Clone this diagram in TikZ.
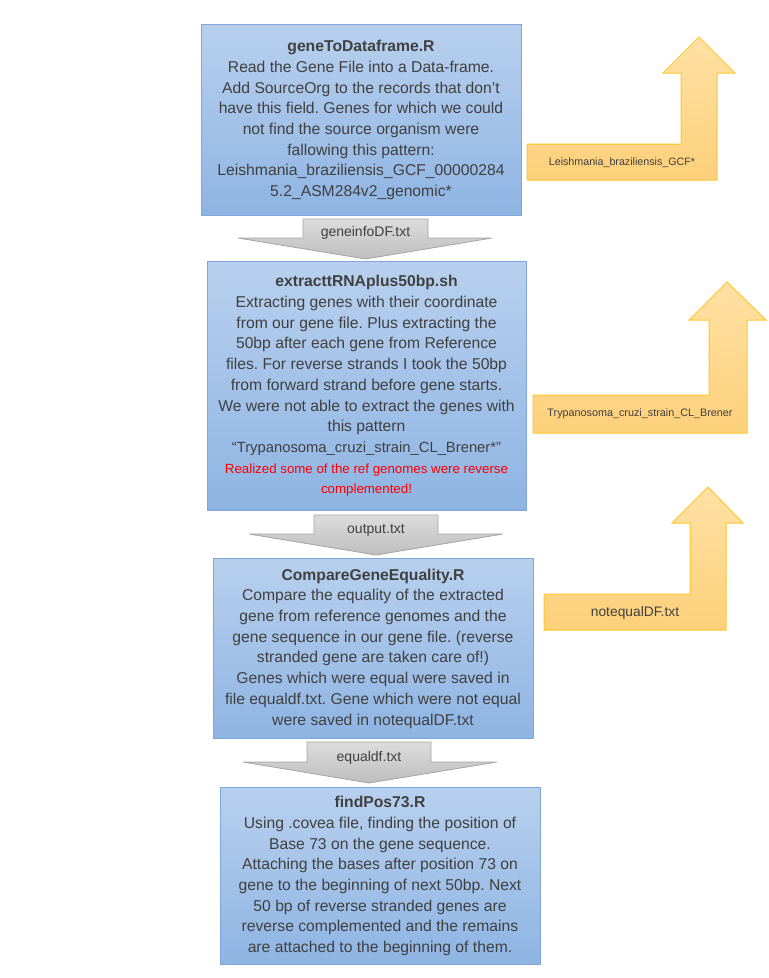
\documentclass[tikz,border=0pt]{standalone}
\usepackage{fontspec}
\setmainfont{Liberation Sans}
\frenchspacing
\definecolor{boxtop}{HTML}{B8D0EE}
\definecolor{boxbot}{HTML}{8EB4E3}
\definecolor{boxline}{HTML}{7FA7D9}
\definecolor{txtgray}{HTML}{404040}
\definecolor{yeltop}{HTML}{FFE1A4}
\definecolor{yelbot}{HTML}{FDD07A}
\definecolor{yelline}{HTML}{FFC72C}
\definecolor{graytop}{HTML}{DCDCDC}
\definecolor{graybot}{HTML}{BEBEBE}
\definecolor{grayline}{HTML}{A5A5A5}
\begin{document}
\begin{tikzpicture}[x=1pt,y=-1pt,
	flowbox/.style={draw=boxline, top color=boxtop, bottom color=boxbot,
		line width=1pt, align=center, text=txtgray, inner sep=0pt,
		font=\fontsize{15.7}{20.7}\selectfont},
	grayarr/.style={draw=grayline, top color=graytop, bottom color=graybot, line width=0.8pt},
	yelarr/.style={draw=yelline, top color=yeltop, bottom color=yelbot, line width=1pt},
	arrtext/.style={text=txtgray, inner sep=0pt, font=\fontsize{14}{16}\selectfont}]
	\useasboundingbox (0,0) rectangle (769,978);
	% the four scripts
	\node [flowbox, minimum width=320pt, minimum height=191pt] (gene) at (361,120) {\textbf{geneToDataframe.R}\\
		Read the Gene File into a Data-frame.\\
		Add SourceOrg to the records that don’t\\
		have this field. Genes for which we could\\
		not find the source organism were\\
		fallowing this pattern:\\
		Leishmania\_braziliensis\_GCF\_00000284\\
		5.2\_ASM284v2\_genomic*};
	\node [flowbox, minimum width=319pt, minimum height=249pt] (extract) at (366.5,386) {\textbf{extracttRNAplus50bp.sh}\\
		Extracting genes with their coordinate\\
		from our gene file. Plus extracting the\\
		50bp after each gene from Reference\\
		files. For reverse strands I took the 50bp\\
		from forward strand before gene starts.\\
		We were not able to extract the genes with\\
		this pattern\\
		{\fontsize{14.8}{20.7}\selectfont “Trypanosoma\_cruzi\_strain\_CL\_Brener*”}\\
		{\color{red}\fontsize{13.3}{20.7}\selectfont Realized some of the ref genomes were reverse}\\
		{\color{red}\fontsize{13.3}{20.7}\selectfont complemented!}};
	\node [flowbox, minimum width=320pt, minimum height=180pt] (compare) at (373,648.5) {\textbf{CompareGeneEquality.R}\\
		Compare the equality of the extracted\\
		gene from reference genomes and the\\
		gene sequence in our gene file. (reverse\\
		stranded gene are taken care of!)\\
		Genes which were equal were saved in\\
		file equaldf.txt. Gene which were not equal\\
		were saved in notequalDF.txt};
	\node [flowbox, minimum width=320pt, minimum height=177pt] (pos73) at (380,876) {\textbf{findPos73.R}\\
		Using .covea file, finding the position of\\
		Base 73 on the gene sequence.\\
		Attaching the bases after position 73 on\\
		gene to the beginning of next 50bp. Next\\
		50 bp of reverse stranded genes are\\
		reverse complemented and the remains\\
		are attached to the beginning of them.};
	% files passed down
	\draw [grayarr] (303,219)--(428,219)--(428,238)--(492,238)--(365.5,259)--(238,238)--(303,238)--cycle;
	\node [arrtext] (geneinfo) at (365.5,233) {geneinfoDF.txt};
	\draw [grayarr] (314,515)--(438,515)--(438,534)--(503,534)--(376,555)--(249,534)--(314,534)--cycle;
	\node [arrtext] (output) at (376,530) {output.txt};
	\draw [grayarr] (307,742)--(431,742)--(431,762)--(497,762)--(369,783)--(243,762)--(307,762)--cycle;
	\node [arrtext] (equaldf) at (369,758) {equaldf.txt};
	% what was left out
	\draw [yelarr] (527,180)--(527,144)--(681,144)--(681,73)--(663,73)--(699,37)--(735,73)--(717,73)--(717,180)--cycle;
	\node [arrtext, font=\fontsize{10.7}{12}\selectfont] (leish) at (622,163) {Leishmania\_braziliensis\_GCF*};
	\draw [yelarr] (533,433)--(533,395)--(709,395)--(709,320)--(689,320)--(727,282)--(766,320)--(747,320)--(747,433)--cycle;
	\node [arrtext, font=\fontsize{10.8}{12}\selectfont] (trypano) at (640,414) {Trypanosoma\_cruzi\_strain\_CL\_Brener};
	\draw [yelarr] (544,630)--(544,594)--(690,594)--(690,523)--(672,523)--(708,487)--(743,523)--(726,523)--(726,630)--cycle;
	\node [arrtext, font=\fontsize{13.8}{15}\selectfont] (notequal) at (635,613) {notequalDF.txt};
\end{tikzpicture}
\end{document}
